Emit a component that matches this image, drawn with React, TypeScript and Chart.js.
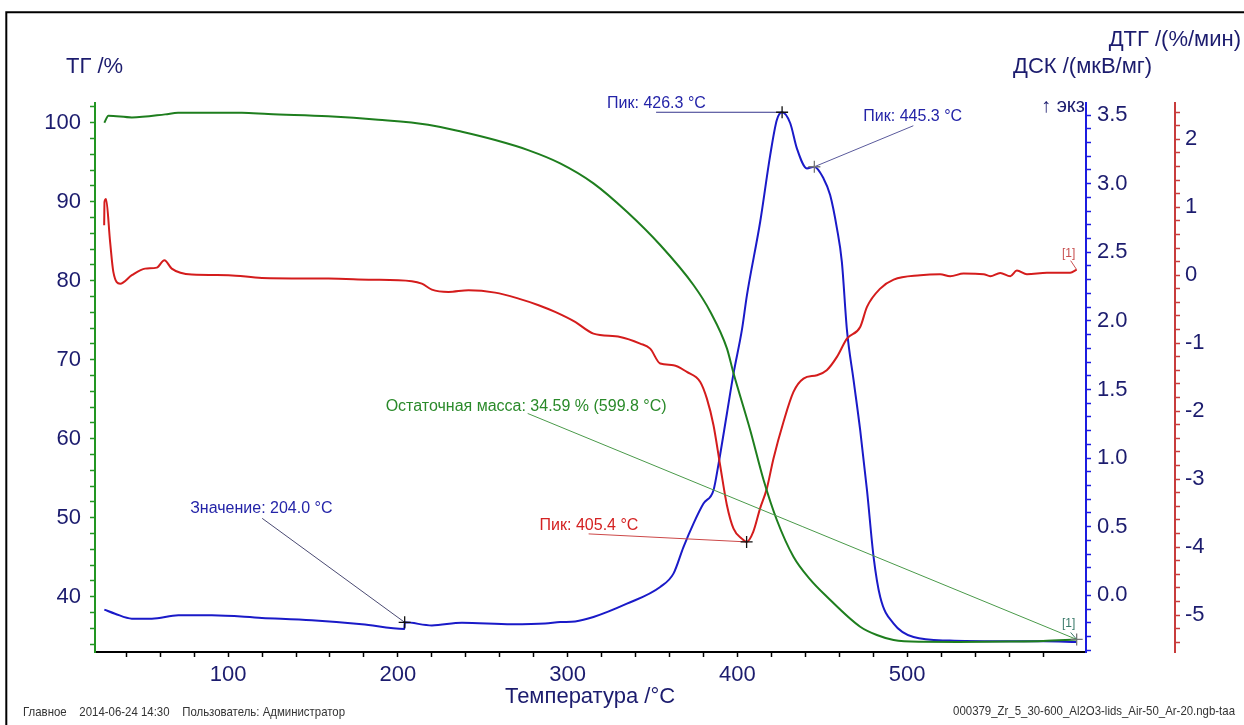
import React, { useEffect, useRef } from 'react';
import { Chart, registerables } from 'chart.js';

Chart.register(...registerables);

// ---------- data ----------
const tgT = [27.1, 29.5, 43.3, 62.9, 70.5, 108.1, 123.6, 158.9, 188.4, 217.8, 237.7, 257.3, 276.7, 295.6, 315.2, 334.9, 354.5, 374.1, 384.0, 393.8, 397.7, 407.5, 415.4, 423.2, 433.0, 442.8, 452.7, 472.3, 482.1, 492.0, 507.7, 530.0, 560.0, 580.0, 599.8];
const tgV = [100.0, 100.89, 100.68, 101.06, 101.27, 101.27, 101.10, 100.81, 100.38, 99.75, 98.86, 97.81, 96.54, 94.86, 92.33, 88.73, 84.52, 79.46, 76.08, 71.44, 68.28, 61.10, 54.77, 49.71, 45.06, 42.2, 40.0, 36.20, 35.15, 34.52, 34.30, 34.28, 34.33, 34.4, 34.59];

const dscT = [27.1, 33.4, 43.3, 55.1, 70.7, 90.4, 119.9, 149.3, 178.8, 203.8, 204.0, 220.0, 237.7, 267.1, 286.7, 295.6, 304.4, 315.2, 334.9, 354.5, 362.3, 368.2, 374.1, 380.0, 385.9, 388.9, 393.8, 397.7, 402.6, 405.6, 413.4, 419.3, 423.2, 426.3, 431.1, 435.0, 440.9, 445.3, 450.7, 454.6, 458.6, 461.5, 464.5, 468.4, 472.3, 476.3, 480.2, 484.1, 492.0, 503.7, 525.0, 555.0, 580.0, 599.8];
const dscV = [-0.104, -0.134, -0.170, -0.170, -0.146, -0.146, -0.165, -0.182, -0.211, -0.245, -0.197, -0.219, -0.199, -0.211, -0.206, -0.195, -0.190, -0.158, -0.061, 0.061, 0.158, 0.352, 0.523, 0.669, 0.766, 0.960, 1.325, 1.617, 1.932, 2.188, 2.722, 3.208, 3.464, 3.52, 3.44, 3.257, 3.111, 3.123, 3.038, 2.917, 2.674, 2.430, 1.932, 1.568, 1.203, 0.766, 0.279, -0.012, -0.206, -0.304, -0.33, -0.335, -0.335, -0.34];

const dtgT = [27.0, 27.2, 28.1, 30.5, 32.4, 36.4, 43.3, 51.1, 58.0, 62.5, 66.8, 78.6, 100.2, 119.9, 159.1, 182.7, 208.2, 214.1, 220.0, 229.8, 241.6, 257.3, 271.1, 282.9, 292.6, 304.4, 315.2, 330.9, 342.7, 348.6, 354.5, 362.3, 370.2, 378.1, 382.0, 385.9, 389.8, 393.8, 397.7, 402.6, 405.4, 409.3, 413.3, 417.3, 421.2, 427.1, 433.0, 438.9, 446.8, 452.6, 458.6, 464.5, 472.3, 476.3, 484.1, 492.0, 507.7, 519.4, 525.3, 533.2, 545.0, 548.9, 554.8, 560.7, 564.6, 570.5, 582.3, 596.0, 599.8];
const dtgV = [0.736, 1.08, 1.12, 0.49, 0.05, -0.124, 0.0, 0.097, 0.112, 0.221, 0.097, 0.009, 0.0, -0.04, -0.05, -0.065, -0.088, -0.124, -0.212, -0.246, -0.221, -0.256, -0.344, -0.441, -0.54, -0.687, -0.859, -0.908, -1.006, -1.08, -1.30, -1.324, -1.423, -1.57, -1.816, -2.207, -2.796, -3.384, -3.729, -3.876, -3.924, -3.777, -3.434, -3.14, -2.699, -2.159, -1.717, -1.521, -1.471, -1.398, -1.202, -0.933, -0.761, -0.466, -0.197, -0.065, 0.0, 0.015, -0.015, 0.024, 0.015, -0.015, 0.034, -0.015, 0.068, 0.015, 0.038, 0.038, 0.082];

// axis ranges and tick labels
const xRange = [21.6, 605.3];
const tgRange = [33.0, 102.5];
const dscRange = [-0.413, 3.5875];
const dtgRange = [-5.544, 2.534];

const xTickStep = 20, xTickFirst = 40, xTickLast = 580;
const xLabelValues = [100, 200, 300, 400, 500];
const tgTickStep = 2, tgTickFirst = 34, tgTickLast = 102;
const tgLabelValues = [40, 50, 60, 70, 80, 90, 100];
const dscTickStep = 0.1, dscTickFirst = -0.4, dscTickLast = 3.5;
const dscLabelValues = [0, 0.5, 1.0, 1.5, 2.0, 2.5, 3.0, 3.5];
const dtgTickStep = 0.2, dtgTickFirst = -5.4, dtgTickLast = 2.4;
const dtgLabelValues = [-5, -4, -3, -2, -1, 0, 1, 2];

// annotations: value marks with label offsets (px) relative to the mark
const annotations = [
  { text: 'Пик: 426.3 °C', t: 426.3, v: 3.52, axis: 'yDSC', color: '#2424a8', line: '#34348c', mark: '#111111', dx: -175, dy: -8.5, lx: -126, ly: 0 },
  { text: 'Пик: 445.3 °C', t: 445.3, v: 3.123, axis: 'yDSC', color: '#2424a8', line: '#5a5a9c', mark: '#777777', dx: 49, dy: -50, lx: 99, ly: -41 },
  { text: 'Остаточная масса: 34.59 % (599.8 °C)', t: 599.8, v: 34.59, axis: 'yTG', color: '#2a8a2a', line: '#4a9a4a', mark: '#777777', dx: -691, dy: -233, lx: -549, ly: -226 },
  { text: 'Пик: 405.4 °C', t: 405.4, v: -3.924, axis: 'yDTG', color: '#d42222', line: '#cc4848', mark: '#111111', dx: -207, dy: -16, lx: -158, ly: -8 },
  { text: 'Значение: 204.0 °C', t: 204.0, v: -0.197, axis: 'yDSC', color: '#2424a8', line: '#4a4a72', mark: '#111111', dx: -214.5, dy: -114, lx: -142.5, ly: -104 },
];
const endTags = [
  { text: '[1]', t: 599.8, v: 0.082, axis: 'yDTG', color: '#c85050', dx: -14.7, dy: -16, lx: -6, ly: -9 },
  { text: '[1]', t: 599.8, v: 34.59, axis: 'yTG', color: '#3a7a6a', dx: -14.7, dy: -15.5, lx: -6, ly: -7 },
];

// ---------- styles ----------
const FONT = '"Liberation Sans", Arial, Helvetica, sans-serif';
const NAVY = '#1c1c6e';
const GREEN = '#1e7e1e';
const RED = '#d41c1c';
const BLUE = '#1a1ac8';

function stepValues(first: number, last: number, step: number) {
  const out: number[] = [];
  const n = Math.round((last - first) / step);
  for (let i = 0; i <= n; i++) out.push(Math.round((first + i * step) * 1000) / 1000);
  return out;
}

function isLabel(list: number[], v: number) {
  return list.some((l) => Math.abs(l - v) < 1e-6);
}

function yAxis(opts: any) {
  const ticksVals = stepValues(opts.first, opts.last, opts.step);
  return {
    type: 'linear',
    position: opts.position,
    weight: opts.weight,
    min: opts.range[0],
    max: opts.range[1],
    afterBuildTicks: (scale: any) => {
      scale.ticks = ticksVals.map((v) => ({ value: v }));
    },
    afterFit: (scale: any) => {
      scale.width = opts.width;
    },
    border: { display: true, color: opts.axisColor, width: 2 },
    grid: { drawOnChartArea: false, drawTicks: true, tickLength: 5, tickColor: opts.axisColor, tickWidth: 1.5 },
    ticks: {
      autoSkip: false,
      padding: opts.padding,
      color: NAVY,
      font: { family: FONT, size: 22 },
      callback: (value: any) => (isLabel(opts.labels, value) ? opts.format(value) : ''),
    },
  };
}

function narrowText(ctx: any, text: string, x: number, y: number, align: 'left' | 'right', sx: number) {
  ctx.save();
  ctx.translate(x, y);
  ctx.scale(sx, 1);
  ctx.textAlign = align;
  ctx.fillText(text, 0, 0);
  ctx.restore();
}

const textPlugin = {
  id: 'thermoTexts',
  afterDatasetsDraw(chart: any) {
    const ctx = chart.ctx;
    const xs = chart.scales.x;
    ctx.save();
    for (const a of annotations) {
      const px = xs.getPixelForValue(a.t);
      const py = chart.scales[a.axis].getPixelForValue(a.v);
      ctx.strokeStyle = a.line;
      ctx.lineWidth = 1;
      ctx.beginPath();
      ctx.moveTo(px + a.lx, py + a.ly);
      ctx.lineTo(px, py);
      ctx.stroke();
      ctx.strokeStyle = a.mark;
      ctx.lineWidth = 1.3;
      ctx.beginPath();
      ctx.moveTo(px - 6, py);
      ctx.lineTo(px + 6, py);
      ctx.moveTo(px, py - 6);
      ctx.lineTo(px, py + 6);
      ctx.stroke();
      ctx.fillStyle = a.color;
      ctx.font = `16px ${FONT}`;
      ctx.textAlign = 'left';
      ctx.textBaseline = 'middle';
      ctx.fillText(a.text, px + a.dx, py + a.dy);
    }
    for (const e of endTags) {
      const px = xs.getPixelForValue(e.t);
      const py = chart.scales[e.axis].getPixelForValue(e.v);
      ctx.strokeStyle = e.color;
      ctx.lineWidth = 1;
      ctx.beginPath();
      ctx.moveTo(px + e.lx, py + e.ly);
      ctx.lineTo(px, py);
      ctx.stroke();
      ctx.fillStyle = e.color;
      ctx.font = `12px ${FONT}`;
      ctx.textAlign = 'left';
      ctx.textBaseline = 'middle';
      ctx.fillText(e.text, px + e.dx, py + e.dy);
    }
    ctx.restore();
  },
  afterDraw(chart: any) {
    const ctx = chart.ctx;
    ctx.save();
    // frame
    ctx.strokeStyle = '#000000';
    ctx.lineWidth = 2;
    ctx.beginPath();
    ctx.moveTo(6.3, 740);
    ctx.lineTo(6.3, 12.3);
    ctx.lineTo(1260, 12.3);
    ctx.stroke();

    ctx.fillStyle = NAVY;
    ctx.textBaseline = 'middle';
    ctx.font = `22px ${FONT}`;
    ctx.textAlign = 'left';
    ctx.fillText('ТГ /%', 66, 67);
    ctx.fillText('ДСК /(мкВ/мг)', 1013, 67);
    ctx.textAlign = 'right';
    ctx.fillText('ДТГ /(%/мин)', 1241, 40);
    ctx.font = `20px ${FONT}`;
    ctx.fillText('↑ экз', 1085, 106);
    ctx.textAlign = 'center';
    ctx.font = `22px ${FONT}`;
    ctx.fillText('Температура /°C', 590, 697);

    ctx.fillStyle = '#333333';
    ctx.font = `13.5px ${FONT}`;
    narrowText(ctx, 'Главное    2014-06-24 14:30    Пользователь: Администратор', 23, 712, 'left', 0.846);
    narrowText(ctx, '000379_Zr_5_30-600_Al2O3-lids_Air-50_Ar-20.ngb-taa', 1235, 711, 'right', 0.846);
    ctx.restore();
  },
};

export default function App() {
  const ref = useRef<HTMLCanvasElement>(null);

  useEffect(() => {
    const xTicks = stepValues(xTickFirst, xTickLast, xTickStep);
    const pts = (ts: number[], vs: number[]) => ts.map((t, i) => ({ x: t, y: vs[i] }));
    const chart = new Chart(ref.current as HTMLCanvasElement, {
      type: 'line',
      data: {
        datasets: [
          { label: 'ТГ', data: pts(tgT, tgV), yAxisID: 'yTG', borderColor: GREEN, borderWidth: 2, pointRadius: 0, cubicInterpolationMode: 'monotone', fill: false },
          { label: 'ДТГ', data: pts(dtgT, dtgV), yAxisID: 'yDTG', borderColor: RED, borderWidth: 2, pointRadius: 0, cubicInterpolationMode: 'monotone', fill: false },
          { label: 'ДСК', data: pts(dscT, dscV), yAxisID: 'yDSC', borderColor: BLUE, borderWidth: 2, pointRadius: 0, cubicInterpolationMode: 'monotone', fill: false },
        ] as any,
      },
      options: {
        responsive: false,
        animation: false,
        devicePixelRatio: 1,
        layout: { padding: { left: 0, top: 103, right: 9, bottom: 0 } },
        plugins: { legend: { display: false }, tooltip: { enabled: false }, title: { display: false } },
        events: [],
        scales: {
          x: {
            type: 'linear',
            position: 'bottom',
            min: xRange[0],
            max: xRange[1],
            afterBuildTicks: (scale: any) => {
              scale.ticks = xTicks.map((v) => ({ value: v }));
            },
            afterFit: (scale: any) => {
              scale.height = 73;
            },
            border: { display: true, color: '#000000', width: 2 },
            grid: { drawOnChartArea: false, drawTicks: true, tickLength: 5, tickColor: '#000000', tickWidth: 1.5 },
            ticks: {
              autoSkip: false,
              maxRotation: 0,
              padding: 5,
              color: NAVY,
              font: { family: FONT, size: 22 },
              callback: (value: any) => (isLabel(xLabelValues, value) ? String(value) : ''),
            },
          },
          yTG: yAxis({ position: 'left', weight: 0, range: tgRange, first: tgTickFirst, last: tgTickLast, step: tgTickStep, labels: tgLabelValues, format: (v: number) => String(Math.round(v)), width: 95, padding: 9, axisColor: '#229622' }),
          yDSC: yAxis({ position: 'right', weight: 0, range: dscRange, first: dscTickFirst, last: dscTickLast, step: dscTickStep, labels: dscLabelValues, format: (v: number) => (Math.abs(v) < 1e-9 ? 0 : v).toFixed(1), width: 89, padding: 6, axisColor: '#1c1ce0' }),
          yDTG: yAxis({ position: 'right', weight: 1, range: dtgRange, first: dtgTickFirst, last: dtgTickLast, step: dtgTickStep, labels: dtgLabelValues, format: (v: number) => String(Math.round(v)), width: 60, padding: 5, axisColor: '#c83c3c' }),
        } as any,
      },
      plugins: [textPlugin],
    } as any);
    return () => chart.destroy();
  }, []);

  return (
    <div style={{ position: 'absolute', left: 0, top: 0, width: 1244, height: 725, background: '#ffffff' }}>
      <canvas ref={ref} width={1244} height={725} style={{ display: 'block' }} />
    </div>
  );
}
